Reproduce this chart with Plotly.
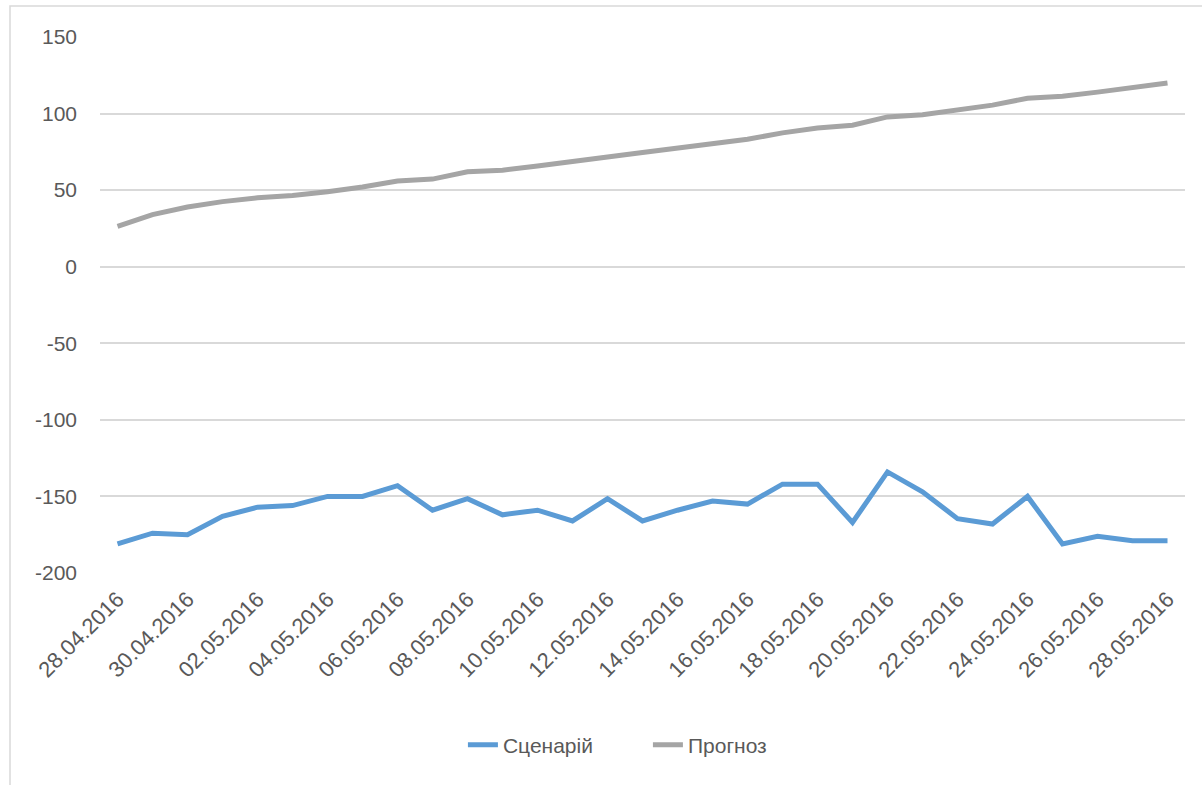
import plotly.graph_objects as go
import pandas as pd

dates = pd.date_range("2016-04-28", "2016-05-28", freq="D")

scenario = [-181, -174, -175, -163, -157, -156, -150, -150, -143, -159,
            -151.5, -162, -159, -166, -151.5, -166, -159, -153, -155, -142,
            -142, -167, -134, -147, -164.5, -168, -150, -181, -176, -179, -179]

forecast = [26.3, 34, 39, 42.5, 45, 46.5, 49, 52, 56, 57.2,
            62, 63, 65.7, 69, 71.7, 74.6, 77.6, 80.4, 83.2, 87.4,
            90.6, 92.4, 97.8, 99.3, 102, 105.5, 110, 111.3, 114, 117, 120]

series_names = ["Сценарій", "Прогноз"]
colors = ["#5B9BD5", "#A5A5A5"]

y_ticks = [-200, -150, -100, -50, 0, 50, 100, 150]
y_tick_text = [str(v) for v in y_ticks]

font_family = "Liberation Sans Narrow, Arial Narrow, Liberation Sans, Arial, sans-serif"
text_color = "#595959"
grid_color = "#D9D9D9"

fig = go.Figure()
for name, vals, col in zip(series_names, [scenario, forecast], colors):
    fig.add_trace(go.Scatter(
        x=dates, y=vals, mode="lines", name=name,
        line=dict(color=col, width=5),
    ))

fig.update_layout(
    width=1202, height=785,
    margin=dict(l=100, r=17, t=37, b=212),
    paper_bgcolor="white", plot_bgcolor="white",
    font=dict(family=font_family, size=21, color=text_color),
    showlegend=True,
    legend=dict(orientation="h", x=0.505, xanchor="center", y=-0.321, yanchor="middle",
                font=dict(size=21, color=text_color),
                entrywidth=140, entrywidthmode="pixels"),
)

fig.update_xaxes(
    type="date",
    range=[pd.Timestamp("2016-04-27 12:00"), pd.Timestamp("2016-05-28 12:00")],
    tickvals=dates[::2],
    tickformat="%d.%m.%Y",
    tickangle=-45,
    showgrid=False,
    showline=False,
    zeroline=False,
    ticks="",
    ticklabelstandoff=8,
    tickfont=dict(size=22, color=text_color),
)

fig.update_yaxes(
    range=[-200, 150],
    tickvals=y_ticks,
    ticktext=y_tick_text,
    showgrid=True, gridcolor=grid_color, gridwidth=1.5,
    zeroline=False, showline=False, ticks="",
    ticklabelstandoff=22,
    tickfont=dict(size=21, color=text_color),
)

# chart frame (left and top edges visible)
fig.add_shape(type="rect", xref="paper", yref="paper",
              x0=(10 - 100) / 1085, x1=1.2, y0=-0.6, y1=(573 - 6) / 536,
              line=dict(color=grid_color, width=1.5), layer="below")

fig.write_html("out.html")
